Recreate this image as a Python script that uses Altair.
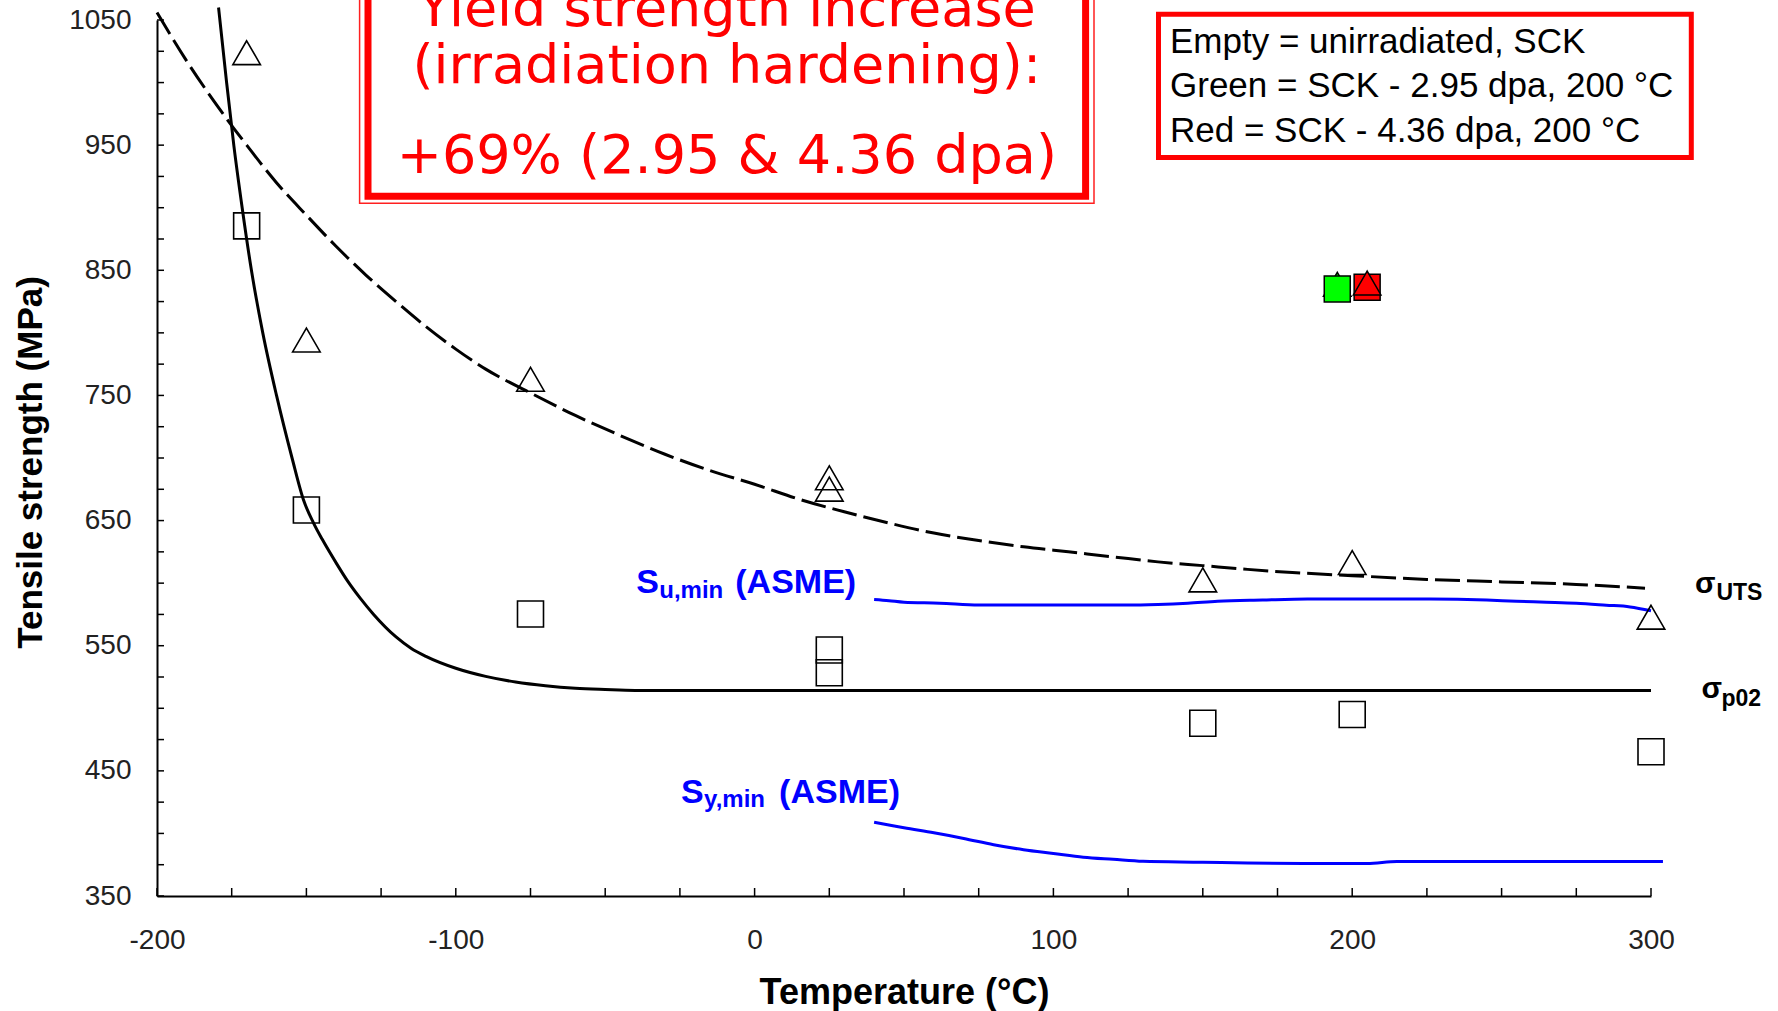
import altair as alt
import pandas as pd

# ------------------------------------------------------------------ data
# Unirradiated SCK tests: yield strength (open squares) and UTS (open triangles)
sq_temp = [-170, -150, -75, 25, 25, 150, 200, 300]
sq_val = [885.5, 658.4, 575.3, 546.6, 528.4, 488, 495, 465.3]
tri_temp = [-170, -150, -75, 25, 25, 150, 200, 300]
tri_val = [1023.9, 794.3, 762.9, 684.2, 675.1, 602.6, 616.5, 572.8]

# Irradiated at 200 °C (green 2.95 dpa, red 4.36 dpa)
irr_names = ["2.95 dpa", "4.36 dpa"]
irr_temp = [195, 205]
irr_sq_val = [835.1, 836.5]
irr_tri_val = [838.8, 839.8]
irr_colors = ["#00ff00", "#ff0000"]

# sigma_p02 fit (solid)
p02_temp = [-179.4, -176.7, -174.3, -171.5, -168.4, -164.6, -160.0, -154.8, -150.9,
            -147.6, -144.7, -140, -136.3, -132, -127.5, -120, -115, -110, -100, -90,
            -80, -70, -60, -50, -40, 0, 100, 200, 300]
p02_val = [1060, 1000, 950, 900, 850, 800, 750, 700, 666,
           648, 635, 616, 602, 588, 575, 557, 548, 541.5, 532, 525.5,
           521, 518, 516, 515, 514.3, 514.2, 514.2, 514.2, 514.2]

# sigma_UTS fit (dashed)
uts_temp = [-200, -190, -180, -170, -160, -150, -140, -130, -120, -110, -100, -90,
            -75, -60, -45, -30, -15, 0, 15, 30, 45, 60, 75, 90, 105, 120, 135,
            150, 165, 180, 200, 225, 250, 275, 298]
uts_val = [1056, 1017, 982, 950, 920, 894, 869, 846, 825, 805, 787, 771,
           752, 734, 718, 703, 690, 679, 667, 657, 648, 640, 634, 629, 625, 621, 617,
           614, 611, 608.5, 606, 603, 601, 599, 596]

# ASME minimum ultimate (S_u,min) and yield (S_y,min) strengths
su_temp = [40, 45, 50, 62, 75, 100, 125, 135, 145, 155, 170, 185, 200, 226,
           245, 255, 265, 275, 285, 293, 300]
su_val = [587, 586, 584.7, 584, 582.5, 582.5, 582.5, 583, 584, 585.5, 586.5,
          587.3, 587.3, 587.3, 586.5, 585.5, 584.8, 584, 582.4, 581, 578]
sy_temp = [40, 50, 60, 70, 80, 90, 100, 110, 120, 130, 150, 165, 185, 205, 215, 250, 304]
sy_val = [409, 404.5, 400.5, 396, 391, 387, 384, 381, 379.3, 377.7, 377, 376.3,
          376, 376, 377.5, 377.5, 377.5]

# Axis ticks / labels
x_label_vals = [-200, -100, 0, 100, 200, 300]
y_label_vals = [350, 450, 550, 650, 750, 850, 950, 1050]
x_minor = list(range(-200, 301, 25))
y_minor = list(range(350, 1051, 25))

# Annotation texts
box_lines = ["Yield strength increase", "(irradiation hardening):", "+69% (2.95 & 4.36 dpa)"]
legend_lines = ["Empty = unirradiated, SCK", "Green = SCK - 2.95 dpa, 200 °C",
                "Red = SCK - 4.36 dpa, 200 °C"]

# ------------------------------------------------------------------ layout
W, H = 1494, 876
FONT = "Liberation Sans"
xs = alt.Scale(domain=[-200, 300], nice=False, zero=False)
ys = alt.Scale(domain=[350, 1050], nice=False, zero=False)
ONE = alt.Data(values=[{}])

x_axis = alt.Axis(values=x_label_vals, title="Temperature (°C)", ticks=False, tickSize=0,
                  grid=False, domainColor="black", domainWidth=2,
                  labelExpr="'' + datum.value",
                  labelFont=FONT, labelFontSize=28, labelColor="#222", labelPadding=30,
                  labelFlush=False, labelOverlap=False, labelAngle=0,
                  titleFont=FONT, titleFontSize=36, titleFontWeight="bold", titleColor="black",
                  titleX=747, titleY=107, titleAlign="center", titleBaseline="alphabetic")
y_axis = alt.Axis(values=y_label_vals, title="Tensile strength (MPa)", ticks=False, tickSize=0,
                  grid=False, domainColor="black", domainWidth=2,
                  labelExpr="'' + datum.value",
                  labelFont=FONT, labelFontSize=28, labelColor="#222", labelPadding=26,
                  labelFlush=False, labelOverlap=False,
                  titleFont=FONT, titleFontSize=35, titleFontWeight="bold", titleColor="black",
                  titleAngle=270, titleX=-127, titleY=442, titleAlign="center",
                  titleBaseline="middle")


def X(field):
    return alt.X(field, type="quantitative", scale=xs, axis=x_axis)


def Y(field):
    return alt.Y(field, type="quantitative", scale=ys, axis=y_axis)


def curve(temp, val, color, dash=None):
    df = pd.DataFrame({"T": temp, "S": val})
    kw = dict(color=color, strokeWidth=3, interpolate="monotone", strokeCap="butt")
    if dash:
        kw["strokeDash"] = dash
    return alt.Chart(df).mark_line(**kw).encode(x=X("T"), y=Y("S"))


p02_line = curve(p02_temp, p02_val, "black")
uts_line = curve(uts_temp, uts_val, "black", dash=[25, 7])
su_line = curve(su_temp, su_val, "#0000ff")
sy_line = curve(sy_temp, sy_val, "#0000ff")

# inward minor ticks
y_ticks = alt.Chart(pd.DataFrame({"v": y_minor})).mark_rule(color="black", strokeWidth=1.5).encode(
    y=Y("v"), x=alt.value(0), x2=alt.value(7))
x_ticks = alt.Chart(pd.DataFrame({"v": x_minor})).mark_rule(color="black", strokeWidth=1.5).encode(
    x=X("v"), y=alt.value(H), y2=alt.value(H - 8))

# markers
sq_df = pd.DataFrame({"T": sq_temp, "S": sq_val})
tri_df = pd.DataFrame({"T": tri_temp, "S": tri_val})
squares = alt.Chart(sq_df).mark_point(shape="square", size=676, filled=False, color="black",
                                      strokeWidth=1.6, opacity=1).encode(x=X("T"), y=Y("S"))
triangles = alt.Chart(tri_df).mark_point(shape="triangle-up", size=760, filled=False, color="black",
                                         strokeWidth=1.6, opacity=1).encode(x=X("T"), y=Y("S"))

irr_df = pd.DataFrame({"name": irr_names, "T": irr_temp, "sq": irr_sq_val,
                       "tri": irr_tri_val, "col": irr_colors})


def irr_marks(df, shape, field, size):
    return alt.Chart(df).mark_point(shape=shape, size=size, filled=True, stroke="black",
                                    strokeWidth=1.5, opacity=1).encode(
        x=X("T"), y=Y(field), fill=alt.Fill("col:N", scale=None))


green_tri = irr_marks(irr_df.iloc[[0]], "triangle-up", "tri", 760)
irr_squares = irr_marks(irr_df, "square", "sq", 676)
red_tri = irr_marks(irr_df.iloc[[1]], "triangle-up", "tri", 760)


# curve labels (anchored in data coordinates)
def label(text, x, y, size, color, dx=0, dy=0):
    return alt.Chart(ONE).mark_text(text=text, font=FONT, fontSize=size, fontWeight="bold",
                                    color=color, align="left", baseline="alphabetic",
                                    dx=dx, dy=dy).encode(
        x=alt.XDatum(x, type="quantitative", scale=xs, axis=x_axis),
        y=alt.YDatum(y, type="quantitative", scale=ys, axis=y_axis))


BLUE = "#0000ff"
labels = [
    label("S", -39.6, 592.1, 34, BLUE),
    label("u,min", -39.6, 592.1, 24, BLUE, dx=23, dy=5),
    label("(ASME)", -39.6, 592.1, 34, BLUE, dx=99),
    label("S", -24.6, 424.3, 34, BLUE),
    label("y,min", -24.6, 424.3, 24, BLUE, dx=23, dy=4),
    label("(ASME)", -24.6, 424.3, 34, BLUE, dx=98),
    label("σ", 314.7, 592.1, 30, "black"),
    label("UTS", 314.7, 592.1, 23, "black", dx=21.5, dy=6.5),
    label("σ", 316.9, 508.2, 30, "black"),
    label("p02", 316.9, 508.2, 23, "black", dx=20, dy=7.5),
]

# red annotation box (double border) at top
box_outer = alt.Chart(ONE).mark_rect(fillOpacity=0, stroke="#ff2020", strokeWidth=1.5).encode(
    x=alt.value(202.6), x2=alt.value(937), y=alt.value(-70), y2=alt.value(183.3))
box_inner = alt.Chart(ONE).mark_rect(fill="white", stroke="#ff0000", strokeWidth=7).encode(
    x=alt.value(211), x2=alt.value(928.6), y=alt.value(-70), y2=alt.value(176.3))
box_texts = [
    alt.Chart(ONE).mark_text(text=t, font="DejaVu Sans", fontSize=54, color="#ff0000",
                             align="center", baseline="alphabetic").encode(
        x=alt.value(569.8), y=alt.value(yy))
    for t, yy in zip(box_lines, [6, 63.3, 153.3])
]

# legend box top right
leg_box = alt.Chart(ONE).mark_rect(fill="white", stroke="#ff0000", strokeWidth=5).encode(
    x=alt.value(1001.5), x2=alt.value(1534.3), y=alt.value(-5.8), y2=alt.value(137.5))
leg_texts = [
    alt.Chart(ONE).mark_text(text=t, font=FONT, fontSize=35, color="black",
                             align="left", baseline="alphabetic").encode(
        x=alt.value(1013), y=alt.value(yy))
    for t, yy in zip(legend_lines, [32.7, 77.3, 121.7])
]

chart = alt.layer(
    p02_line, y_ticks, x_ticks, su_line, sy_line, uts_line,
    squares, triangles, green_tri, irr_squares, red_tri,
    *labels, box_outer, box_inner, *box_texts, leg_box, *leg_texts,
).properties(
    width=W, height=H,
    autosize=alt.AutoSizeParams(type="none"),
    padding={"left": 157, "top": 20, "right": 127, "bottom": 115},
    background="white",
).configure_view(stroke=None)

chart.save("out.html", embed_options={"renderer": "svg", "actions": False})
